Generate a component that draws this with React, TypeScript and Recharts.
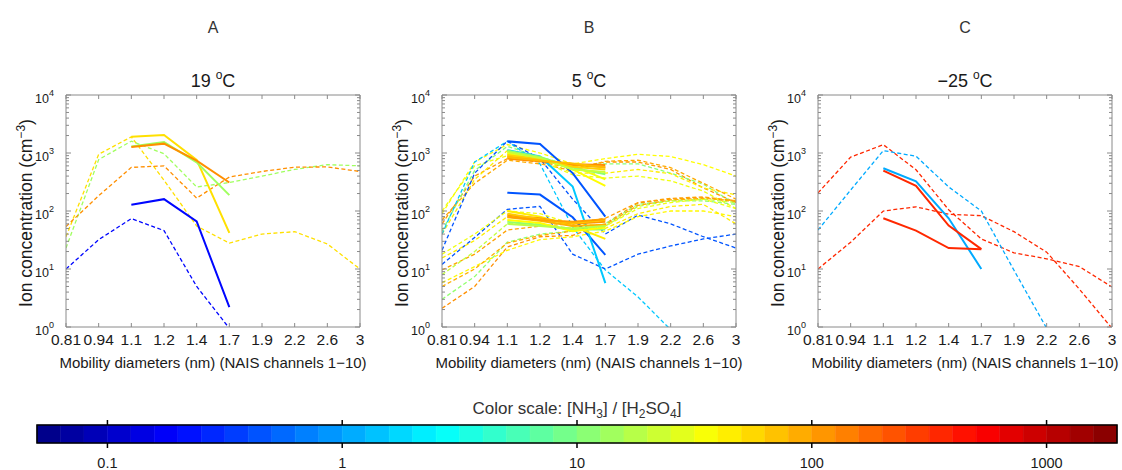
import React from "react";
import { LineChart, Line, XAxis, YAxis, ComposedChart, ReferenceArea } from "recharts";

// ---------------- DATA ----------------
const N = null;
const CHANNELS = ["0.81", "0.94", "1.1", "1.2", "1.4", "1.7", "1.9", "2.2", "2.6", "3"];
const Y_MAJOR = [1, 10, 100, 1000, 10000];
const Y_MINOR_MULT = [2, 3, 4, 5, 6, 7, 8, 9];
const CB_TICKS = [0.1, 1, 10, 100, 1000];
const CB_LOG_MIN = -1.3;
const CB_LOG_MAX = 3.3;
const CB_STEPS = 46;

// Panel A (19 °C)
const A_SOLID_RATIO = [52, 14, 120, 0.2];
const A_SOLID = [
  [N, N, 1900, 2050, 760, 42, N, N, N, N],
  [N, N, 1300, 1550, 690, 188, N, N, N, N],
  [N, N, 1270, 1450, 740, 310, N, N, N, N],
  [N, N, 128, 160, 66, 2.2, N, N, N, N],
];
const A_DASHED_RATIO = [52, 14, 120, 0.2];
const A_DASHED = [
  [36, 950, 1900, 340, 55, 28, 40, 44, 27, 10],
  [23, 770, 1600, 970, 260, 310, 400, 520, 630, 600],
  [54, 183, 565, 600, 167, 385, 480, 570, 575, 480],
  [10, 32, 74, 46, 5, 0.95, N, N, N, N],
];

// Panel B (5 °C)
const B_SOLID_RATIO = [0.45, 0.45, 1.5, 38, 32, 11.4, 95, 120, 60, 21, 75, 45, 110, 85, 12, 38, 65, 18, 100];
const B_SOLID = [
  [N, N, 1590, 1430, 450, 80, N, N, N, N],
  [N, N, 207, 192, 78, 17.5, N, N, N, N],
  [N, N, 1120, 870, 265, 5.7, N, N, N, N],
  [N, N, 1000, 850, 520, 270, N, N, N, N],
  [N, N, 950, 800, 600, 350, N, N, N, N],
  [N, N, 1100, 850, 560, 430, N, N, N, N],
  [N, N, 870, 760, 620, 570, N, N, N, N],
  [N, N, 800, 720, 640, 620, N, N, N, N],
  [N, N, 920, 780, 580, 520, N, N, N, N],
  [N, N, 1050, 820, 520, 470, N, N, N, N],
  [N, N, 850, 740, 660, 560, N, N, N, N],
  [N, N, 100, 80, 55, 33, N, N, N, N],
  [N, N, 85, 75, 60, 65, N, N, N, N],
  [N, N, 78, 68, 55, 58, N, N, N, N],
  [N, N, 65, 58, 48, 48, N, N, N, N],
  [N, N, 70, 62, 45, 52, N, N, N, N],
  [N, N, 90, 72, 62, 70, N, N, N, N],
  [N, N, 60, 55, 50, 55, N, N, N, N],
  [N, N, 80, 70, 65, 72, N, N, N, N],
];
const B_DASHED_RATIO = [38, 110, 11, 45, 90, 32, 1.5, 0.45, 0.45, 120, 12, 40, 100, 45, 32, 20, 85];
const B_DASHED = [
  [90, 700, 1400, 1000, 650, 800, 950, 870, 630, 400],
  [60, 400, 800, 700, 550, 700, 700, 520, 250, 140],
  [45, 500, 1300, 850, 600, 650, 650, 450, 290, 130],
  [40, 350, 1100, 800, 450, 450, 520, 440, 250, 190],
  [70, 300, 750, 650, 500, 720, 750, 560, 300, 160],
  [100, 600, 900, 750, 420, 370, 400, 330, 220, 110],
  [40, 700, 1600, 650, 53, 9.6, 3.3, 0.9, N, N],
  [21, 450, 1600, 800, 160, 40, 85, 60, 36, 23],
  [12, 35, 107, 120, 18, 10, 18, 25, 33, 40],
  [2.1, 5, 24, 36, 38, 60, 138, 160, 170, 145],
  [3, 7.4, 29, 40, 45, 60, 130, 150, 150, 130],
  [5.8, 11, 21, 32, 36, 45, 80, 100, 100, 80],
  [9.6, 18, 47, 55, 60, 75, 140, 165, 175, 150],
  [15.5, 31, 80, 70, 55, 50, 90, 120, 130, 60],
  [18, 40, 100, 90, 60, 55, 110, 140, 160, 110],
  [8, 20, 60, 60, 50, 55, 120, 150, 160, 140],
  [5, 10, 28, 38, 45, 58, 125, 155, 165, 150],
];

// Panel C (−25 °C)
const C_SOLID_RATIO = [1.1, 350, 350];
const C_SOLID = [
  [N, N, 545, 325, 75, 10, N, N, N, N],
  [N, N, 495, 272, 56, 22, N, N, N, N],
  [N, N, 75, 46, 23, 22, N, N, N, N],
];
const C_DASHED_RATIO = [350, 350, 1.1];
const C_DASHED = [
  [205, 850, 1390, 515, 105, 33, 19, 15, 11, 4.9],
  [10, 29, 100, 118, 88, 83, 44, 19.5, 4.5, 0.95],
  [47, 230, 1100, 880, 260, 100, 9.5, 0.95, N, N],
];

// ---------------- LAYOUT / STYLE ----------------
const FONT = "'Liberation Sans', Arial, Helvetica, sans-serif";
const AX = "#8a8a8a";
const TXT = "#1a1a1a";
const PLOT_TOP = 95;
const PLOT_H = 232;
const PLOT_W = 294;

const clamp = (v: number) => Math.max(0, Math.min(1, v));
function jet(t: number) {
  const r = clamp(1.5 - Math.abs(4 * t - 3));
  const g = clamp(1.5 - Math.abs(4 * t - 2));
  const b = clamp(1.5 - Math.abs(4 * t - 1));
  return `rgb(${Math.round(r * 255)},${Math.round(g * 255)},${Math.round(b * 255)})`;
}
function ratioColor(ratio: number) {
  return jet((Math.log10(ratio) - CB_LOG_MIN) / (CB_LOG_MAX - CB_LOG_MIN));
}

const Y_TICKS: number[] = [];
Y_MAJOR.forEach((m, i) => {
  Y_TICKS.push(m);
  if (i < Y_MAJOR.length - 1) Y_MINOR_MULT.forEach((k) => Y_TICKS.push(m * k));
});
const X_TICKS = CHANNELS.map((_, i) => i);

const isMajor = (v: number) => Math.abs(Math.log10(v) - Math.round(Math.log10(v))) < 1e-6;

const YTickLeft = (props: any) => {
  const { x, y, payload } = props;
  const v = payload.value;
  const major = isMajor(v);
  const exp = Math.round(Math.log10(v));
  return (
    <g>
      <line x1={x} x2={x + (major ? 5 : 3)} y1={y} y2={y} stroke={AX} strokeWidth={1} />
      {major && (
        <text x={x - 12} y={y + 8} textAnchor="end" fontSize={12.5} fill={TXT} fontFamily={FONT}>
          10<tspan dy={-7} fontSize={9}>{exp}</tspan>
        </text>
      )}
    </g>
  );
};
const YTickRight = (props: any) => {
  const { x, y, payload } = props;
  const major = isMajor(payload.value);
  return <line x1={x} x2={x - (major ? 5 : 3)} y1={y} y2={y} stroke={AX} strokeWidth={1} />;
};
const XTickBottom = (props: any) => {
  const { x, y, payload } = props;
  return (
    <g>
      <line x1={x} x2={x} y1={y} y2={y - 4} stroke={AX} strokeWidth={1} />
      <text x={x} y={y + 18} textAnchor="middle" fontSize={15.5} fill={TXT} fontFamily={FONT}>
        {CHANNELS[payload.value]}
      </text>
    </g>
  );
};
const XTickTop = (props: any) => {
  const { x, y } = props;
  return <line x1={x} x2={x} y1={y} y2={y + 4} stroke={AX} strokeWidth={1} />;
};

type PanelProps = {
  left: number;
  solid: (number | null)[][];
  solidRatio: number[];
  dashed: (number | null)[][];
  dashedRatio: number[];
};

function Panel({ left, solid, solidRatio, dashed, dashedRatio }: PanelProps) {
  const rows = CHANNELS.map((_, i) => {
    const r: any = { i };
    dashed.forEach((s, k) => (r["d" + k] = s[i]));
    solid.forEach((s, k) => (r["s" + k] = s[i]));
    return r;
  });
  return (
    <div style={{ position: "absolute", left: left - 60, top: PLOT_TOP - 10 }}>
      <LineChart width={PLOT_W + 70} height={PLOT_H + 60} data={rows} margin={{ top: 9, right: 9, bottom: 0, left: 0 }}>
        <XAxis xAxisId="b" dataKey="i" type="number" domain={[0, 9]} ticks={X_TICKS} interval={0} height={50}
          tickSize={0} tickMargin={0} tickLine={false} axisLine={{ stroke: AX }} tick={XTickBottom} allowDataOverflow />
        <XAxis xAxisId="t" orientation="top" dataKey="i" type="number" domain={[0, 9]} ticks={X_TICKS} interval={0} height={1}
          tickSize={0} tickMargin={0} tickLine={false} axisLine={{ stroke: AX }} tick={XTickTop} allowDataOverflow />
        <YAxis yAxisId="l" type="number" scale="log" domain={[1, 10000]} allowDataOverflow ticks={Y_TICKS} interval={0} width={60}
          tickSize={0} tickMargin={0} tickLine={false} axisLine={{ stroke: AX }} tick={YTickLeft} />
        <YAxis yAxisId="r" orientation="right" type="number" scale="log" domain={[1, 10000]} allowDataOverflow ticks={Y_TICKS} interval={0} width={1}
          tickSize={0} tickMargin={0} tickLine={false} axisLine={{ stroke: AX }} tick={YTickRight} />
        {dashed.map((_, k) => (
          <Line key={"d" + k} xAxisId="b" yAxisId="l" dataKey={"d" + k} type="linear" stroke={ratioColor(dashedRatio[k])}
            strokeWidth={1.3} strokeDasharray="4 2.5" dot={false} activeDot={false} isAnimationActive={false} connectNulls={false} />
        ))}
        {solid.map((_, k) => (
          <Line key={"s" + k} xAxisId="b" yAxisId="l" dataKey={"s" + k} type="linear" stroke={ratioColor(solidRatio[k])}
            strokeWidth={2} dot={false} activeDot={false} isAnimationActive={false} connectNulls={false} />
        ))}
      </LineChart>
    </div>
  );
}

const CB_MIN = Math.pow(10, CB_LOG_MIN);
const CB_MAX = Math.pow(10, CB_LOG_MAX);
const CB_BLOCKS = Array.from({ length: CB_STEPS }, (_, i) => ({
  x1: Math.pow(10, CB_LOG_MIN + ((CB_LOG_MAX - CB_LOG_MIN) * i) / CB_STEPS),
  x2: Math.pow(10, CB_LOG_MIN + ((CB_LOG_MAX - CB_LOG_MIN) * (i + 1)) / CB_STEPS),
  color: jet((i + 0.5) / CB_STEPS),
}));

const CbTickBottom = (props: any) => {
  const { x, y, payload } = props;
  return (
    <g>
      <line x1={x} x2={x} y1={y} y2={y + 5} stroke="#000" strokeWidth={1.5} />
      <text x={x} y={y + 25} textAnchor="middle" fontSize={14.5} fill={TXT} fontFamily={FONT}>
        {String(payload.value)}
      </text>
    </g>
  );
};
const CbTickTop = (props: any) => {
  const { x, y } = props;
  return <line x1={x} x2={x} y1={y} y2={y - 5} stroke="#000" strokeWidth={1.5} />;
};

const CB_TOP = 425;
function ColorBar() {
  return (
    <div style={{ position: "absolute", left: 0, top: CB_TOP - 25 }}>
      <ComposedChart width={1122} height={70} data={[{ x: 1 }]} margin={{ top: 24, right: 5, left: 37, bottom: 0 }}>
        <XAxis xAxisId="b" dataKey="x" type="number" scale="log" domain={[CB_MIN, CB_MAX]} allowDataOverflow ticks={CB_TICKS} interval={0}
          height={27} tickSize={0} tickMargin={0} tickLine={false} axisLine={false} tick={CbTickBottom} />
        <XAxis xAxisId="t" orientation="top" dataKey="x" type="number" scale="log" domain={[CB_MIN, CB_MAX]} allowDataOverflow ticks={CB_TICKS} interval={0}
          height={1} tickSize={0} tickMargin={0} tickLine={false} axisLine={false} tick={CbTickTop} />
        <YAxis yAxisId="y" hide type="number" domain={[0, 1]} allowDataOverflow />
        {CB_BLOCKS.map((b, i) => (
          <ReferenceArea key={i} xAxisId="b" yAxisId="y" x1={b.x1} x2={b.x2} y1={0} y2={1} fill={b.color} fillOpacity={1}
            stroke={b.color} strokeWidth={0.5} ifOverflow="visible" />
        ))}
        <ReferenceArea xAxisId="b" yAxisId="y" x1={CB_MIN} x2={CB_MAX} y1={0} y2={1} fill="none" fillOpacity={0}
          stroke="#000" strokeWidth={1.6} ifOverflow="visible" />
      </ComposedChart>
    </div>
  );
}

const PANELS = [
  { id: "A", temp: "19", left: 66, solid: A_SOLID, solidRatio: A_SOLID_RATIO, dashed: A_DASHED, dashedRatio: A_DASHED_RATIO },
  { id: "B", temp: "5", left: 442, solid: B_SOLID, solidRatio: B_SOLID_RATIO, dashed: B_DASHED, dashedRatio: B_DASHED_RATIO },
  { id: "C", temp: "\u221225", left: 818, solid: C_SOLID, solidRatio: C_SOLID_RATIO, dashed: C_DASHED, dashedRatio: C_DASHED_RATIO },
];

export default function App() {
  return (
    <div style={{ position: "absolute", left: 0, top: 0, width: 1122, height: 470, background: "#fff", overflow: "hidden", fontFamily: FONT }}>
      {PANELS.map((p) => (
        <Panel key={p.id} left={p.left} solid={p.solid} solidRatio={p.solidRatio} dashed={p.dashed} dashedRatio={p.dashedRatio} />
      ))}
      <ColorBar />
      <svg width={1122} height={470} style={{ position: "absolute", left: 0, top: 0, pointerEvents: "none" }} fontFamily={FONT}>
        {PANELS.map((p) => {
          const cx = p.left + PLOT_W / 2;
          return (
            <g key={p.id}>
              <text x={cx} y={33} textAnchor="middle" fontSize={16} fill="#333">{p.id}</text>
              <text x={cx} y={87} textAnchor="middle" fontSize={18} fill={TXT}>
                {p.temp + " "}<tspan dy={-8} fontSize={12}>o</tspan><tspan dy={8}>C</tspan>
              </text>
              <text transform={`translate(${p.left - 34}, ${PLOT_TOP + PLOT_H / 2 + 2}) rotate(-90)`} textAnchor="middle" fontSize={17.5} fill={TXT}>
                Ion concentration (cm<tspan dy={-7} fontSize={12}>{"\u22123"}</tspan><tspan dy={7}>)</tspan>
              </text>
              <text x={cx} y={368} textAnchor="middle" fontSize={15} fill={TXT}>
                Mobility diameters (nm) (NAIS channels 1{"\u2212"}10)
              </text>
            </g>
          );
        })}
        <text x={577} y={414} textAnchor="middle" fontSize={17} fill="#333">
          Color scale: [NH<tspan dy={4} fontSize={12}>3</tspan><tspan dy={-4}>] / [H</tspan><tspan dy={4} fontSize={12}>2</tspan>
          <tspan dy={-4}>SO</tspan><tspan dy={4} fontSize={12}>4</tspan><tspan dy={-4}>]</tspan>
        </text>
      </svg>
    </div>
  );
}
